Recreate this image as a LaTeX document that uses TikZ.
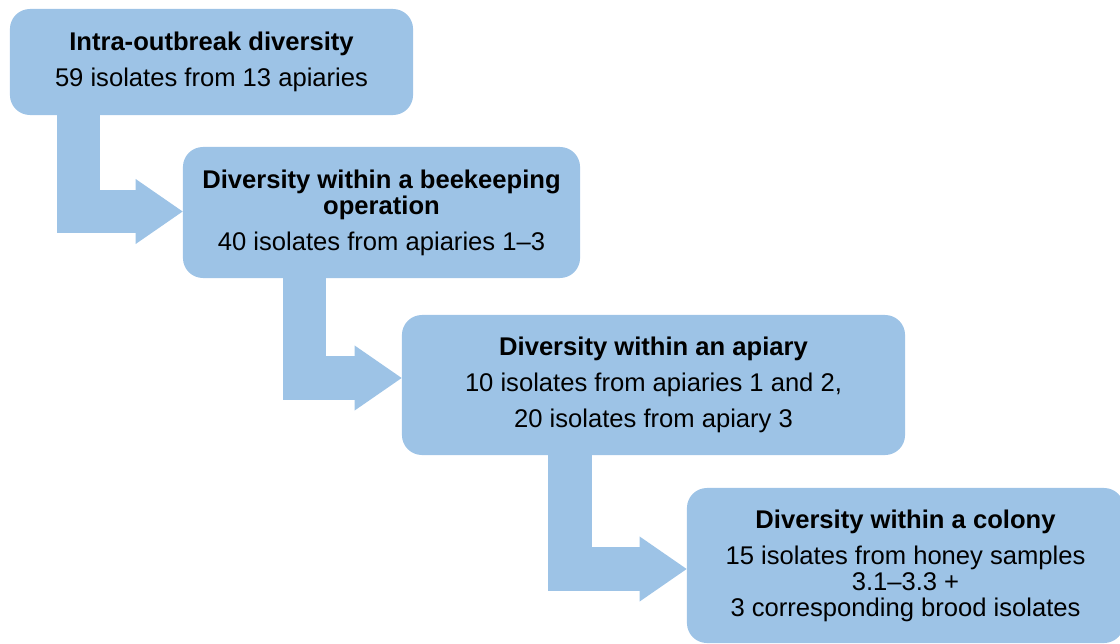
\documentclass[tikz,border=0pt]{standalone}
\usepackage{fontspec}
\setmainfont{Liberation Sans}
\usepackage{xcolor}
\usepackage{tikz}
\usetikzlibrary{arrows.meta, positioning, calc}
\definecolor{boxblue}{HTML}{9DC3E6}

\begin{document}
\begin{tikzpicture}[
  x=0.025cm, y=0.025cm,
  every node/.style={font=\fontsize{18.2}{18.5}\selectfont},
  stage/.style={rectangle, rounded corners=0.5cm, fill=boxblue, draw=none,
                inner sep=0pt, align=center},
  flow/.style={draw=boxblue, line width=1.075cm,
               -{Triangle[length=1.175cm, width=1.625cm, line width=0pt]}},
]
\useasboundingbox (0,0) rectangle (1120,-644);
% stages
\node[stage, minimum width=10.075cm, minimum height=2.65cm] (outbreak) at (211.5,-62)
  {\textbf{Intra-outbreak diversity}\\[7pt]59 isolates from 13 apiaries};
\node[stage, minimum width=9.925cm, minimum height=3.275cm] (operation) at (381.5,-212.5)
  {\textbf{Diversity within a beekeeping}\\\textbf{operation}\\[7pt]40 isolates from apiaries 1--3};
\node[stage, minimum width=12.575cm, minimum height=3.5cm] (apiary) at (653.5,-385)
  {\textbf{Diversity within an apiary}\\[7pt]10 isolates from apiaries 1 and 2,\\[7pt]20 isolates from apiary 3};
\node[stage, minimum width=10.925cm, minimum height=3.875cm] (colony) at (905.5,-565.5)
  {\textbf{Diversity within a colony}\\[7pt]15 isolates from honey samples\\3.1--3.3 +\\3 corresponding brood isolates};
% bent block arrows
\draw[flow] (outbreak.south -| 78.5,0) |- (operation.west |- 0,-211.5);
\draw[flow] (operation.south -| 304.5,0) |- (apiary.west |- 0,-378);
\draw[flow] (apiary.south -| 570,0) |- (colony.west |- 0,-569);
\end{tikzpicture}
\end{document}
